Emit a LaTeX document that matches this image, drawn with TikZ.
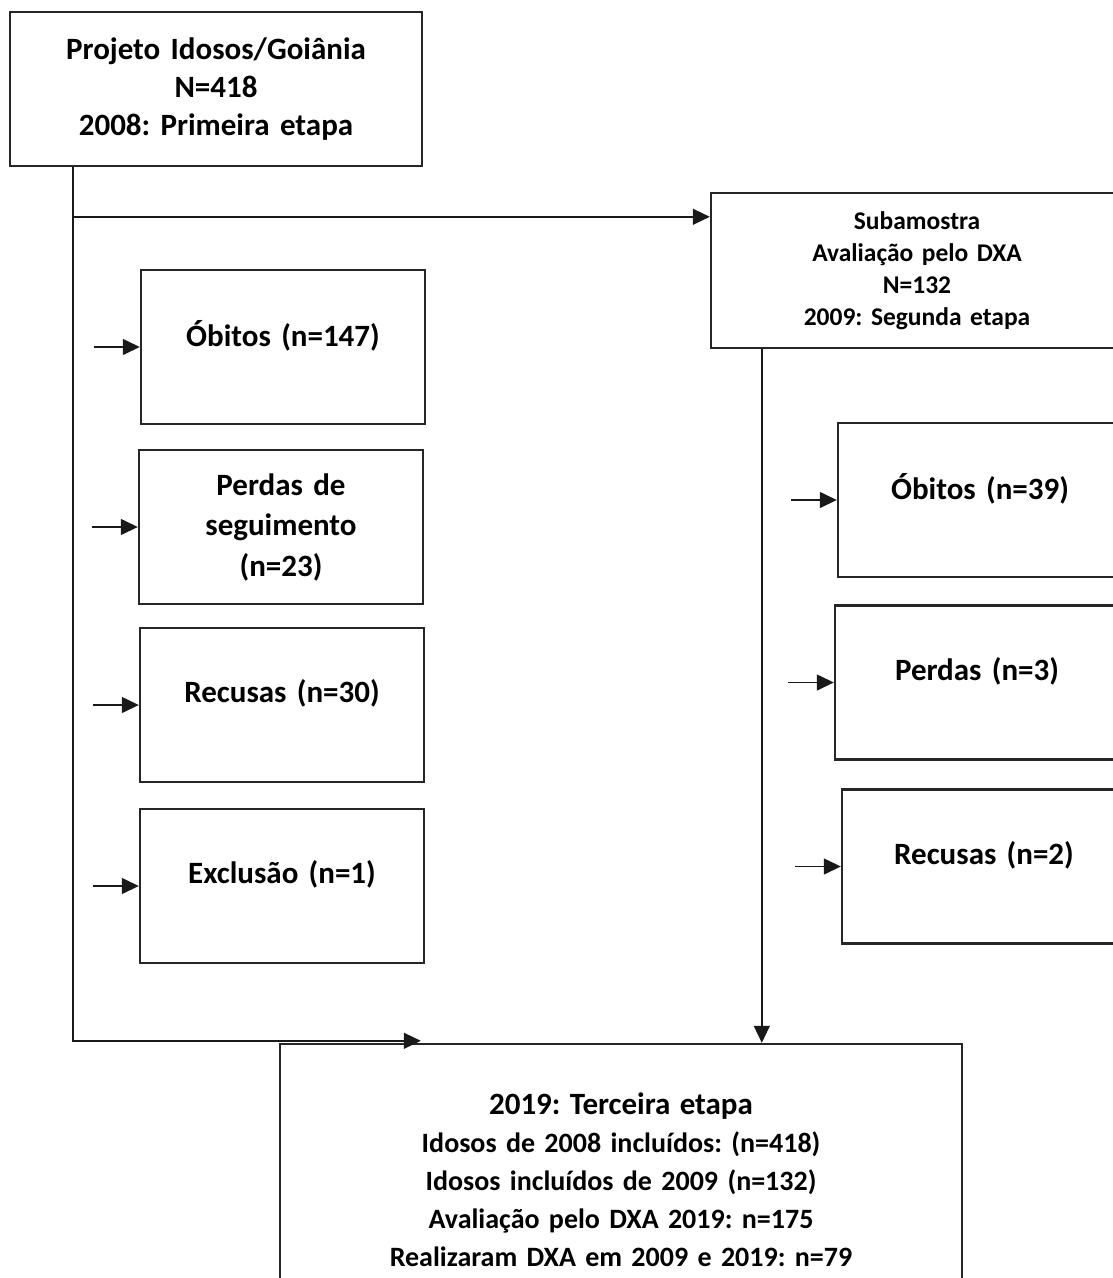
\documentclass[tikz,border=0pt]{standalone}
\usepackage{fontspec}
\setmainfont{Carlito}
\frenchspacing
\usepackage{tikz}
\usetikzlibrary{arrows, arrows.meta}
\tikzstyle{stage}     = [rectangle, minimum width=412pt, minimum height=154pt, text width=390pt, align=center, draw=black!85, line width=2.4pt, font=\bfseries\fontsize{31}{38}\selectfont]
\tikzstyle{substage}  = [stage, minimum height=155pt, font=\bfseries\fontsize{25.5}{32}\selectfont]
\tikzstyle{outcome}   = [rectangle, minimum width=284pt, minimum height=154pt, text width=260pt, align=center, draw=black!85, line width=2.4pt, font=\bfseries\fontsize{31}{40.5}\selectfont]
\tikzstyle{single}    = [outcome, text depth=28pt]
\tikzstyle{final}     = [rectangle, minimum width=682pt, minimum height=272pt, text width=640pt, align=center, draw=black!85, line width=2.4pt, font=\bfseries\fontsize{28}{38}\selectfont]
\tikzstyle{connector} = [line width=1.4pt, draw=black!90]
\tikzstyle{arrow}     = [connector, -{Triangle[length=17pt, width=16pt]}]

\begin{document}
\begin{tikzpicture}[x=1pt, y=1pt, node distance=180pt]
    \useasboundingbox (0,0) rectangle (1113,-1278);
    \clip (0,0) rectangle (1113,-1278);
    % Nodes
    %% 2008 and 2009
    \node (projeto)    [stage] at (216,-89)                                    {Projeto Idosos/Goiânia\\N=418\\2008: Primeira etapa};
    \node (subamostra) [substage, right of=projeto, xshift=521pt, yshift=-181.5pt] {Subamostra\\Avaliação pelo DXA\\N=132\\2009: Segunda etapa};
    %%% Left column
    \node (obitos_i)   [single, below of=projeto, xshift=67pt, yshift=-78pt]    {Óbitos (n=147)};
    \node (perdas_i)   [outcome, below of=obitos_i, xshift=-2pt]                {Perdas de\\seguimento\\(n=23)};
    \node (recusas_i)  [single, below of=perdas_i, xshift=1pt, yshift=2pt]      {Recusas (n=30)};
    \node (exclusao)   [single, below of=recusas_i, yshift=-1pt]                {Exclusão (n=1)};
    %%% Right column
    \node (obitos_ii)  [single, below of=subamostra, xshift=63pt, yshift=-49.5pt] {Óbitos (n=39)};
    \node (perdas_ii)  [single, below of=obitos_ii, xshift=-3pt, yshift=-2.5pt]   {Perdas (n=3)};
    \node (recusas_ii) [single, below of=perdas_ii, xshift=7pt, yshift=-4pt]      {Recusas (n=2)};
    %% 2019
    \node (terceira)   [final, below of=exclusao, xshift=339pt, yshift=-114pt]
      {{\fontsize{31}{40}\selectfont 2019: Terceira etapa}\\Idosos de 2008 incluídos: (n=418)\\Idosos incluídos de 2009 (n=132)\\Avaliação pelo DXA 2019: n=175\\Realizaram DXA em 2009 e 2019: n=79};

    % Arrows
    \coordinate (split)    at ([xshift=-143pt]projeto.south);
    \coordinate (sub_in)   at ([yshift=-25pt]subamostra.north west);
    \coordinate (sub_out)  at ([xshift=52pt]subamostra.south west);
    \coordinate (final_in) at ([xshift=142pt, yshift=2pt]terceira.north west);
    \draw [arrow] (split)          |- (final_in);
    \draw [arrow] (split |- sub_in) -- (sub_in);
    \draw [arrow] (sub_out)        -- (sub_out |- terceira.north);
    \foreach \n in {obitos_i, perdas_i, recusas_i, exclusao, obitos_ii, perdas_ii, recusas_ii}
      \draw [arrow] ([xshift=-46pt]\n.west) -- (\n.west);
\end{tikzpicture}
\end{document}
